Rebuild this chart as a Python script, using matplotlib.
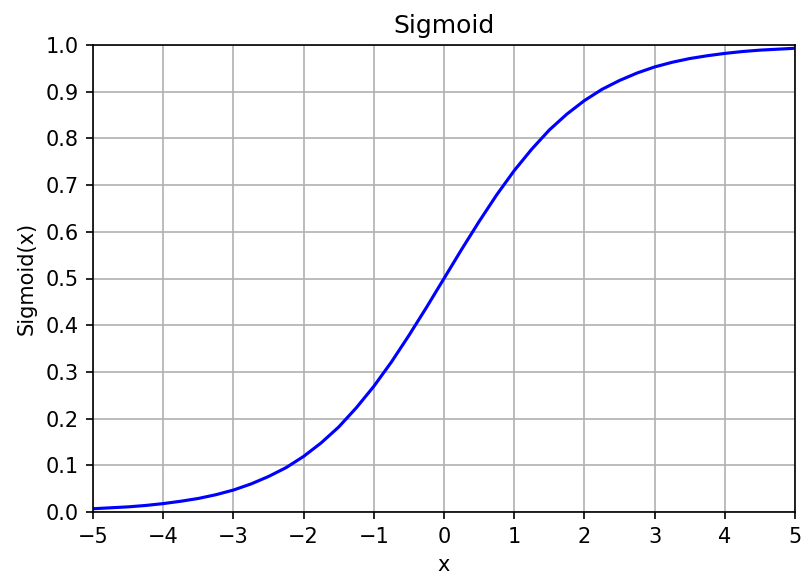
import numpy as np
import matplotlib
matplotlib.use('Agg')
import matplotlib.pyplot as plt

# values, every 0.25 on x
x_vals = [-5.0, -4.75, -4.5, -4.25, -4.0, -3.75, -3.5, -3.25, -3.0, -2.75, -2.5,
          -2.25, -2.0, -1.75, -1.5, -1.25, -1.0, -0.75, -0.5, -0.25, 0.0,
          0.25, 0.5, 0.75, 1.0, 1.25, 1.5, 1.75, 2.0, 2.25, 2.5,
          2.75, 3.0, 3.25, 3.5, 3.75, 4.0, 4.25, 4.5, 4.75, 5.0]
y_vals = [0.007, 0.009, 0.011, 0.014, 0.018, 0.023, 0.029, 0.037, 0.047, 0.060, 0.076,
          0.095, 0.119, 0.148, 0.182, 0.223, 0.269, 0.321, 0.378, 0.438, 0.500,
          0.562, 0.622, 0.679, 0.731, 0.777, 0.818, 0.852, 0.881, 0.905, 0.924,
          0.940, 0.953, 0.963, 0.971, 0.977, 0.982, 0.986, 0.989, 0.991, 0.993]
x_ticks = [-5, -4, -3, -2, -1, 0, 1, 2, 3, 4, 5]
y_ticks = [0.0, 0.1, 0.2, 0.3, 0.4, 0.5, 0.6, 0.7, 0.8, 0.9, 1.0]

fig, ax = plt.subplots(figsize=(805/150, 577/150), dpi=150)
fig.subplots_adjust(left=93/805, right=795/805, top=1-45/577, bottom=1-512/577)

ax.plot(x_vals, y_vals, color='blue', lw=1.5)
ax.set_xlim(-5, 5)
ax.set_ylim(0, 1)
ax.set_xticks(x_ticks)
ax.set_yticks(y_ticks)
ax.grid(True)
ax.set_title('Sigmoid')
ax.set_xlabel('x')
ax.set_ylabel('Sigmoid(x)')

fig.savefig('out.png', dpi=150)
